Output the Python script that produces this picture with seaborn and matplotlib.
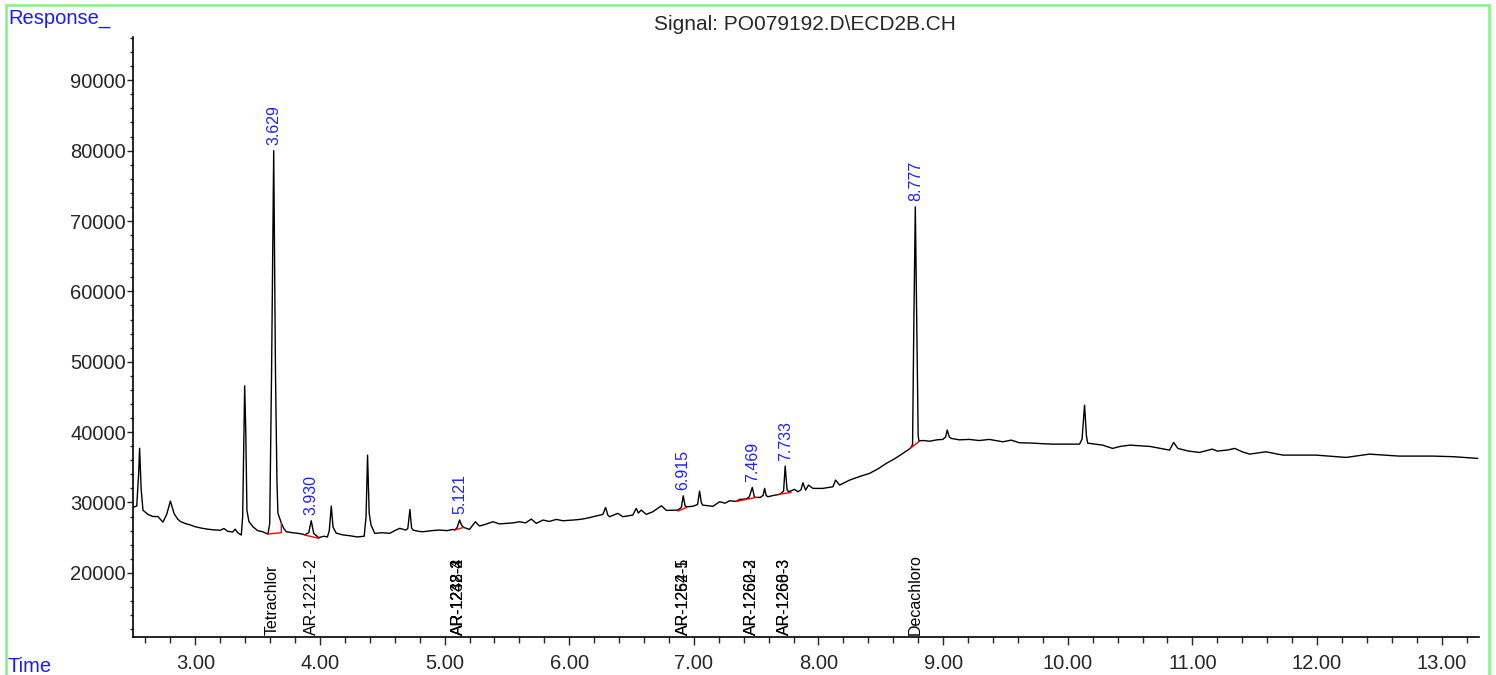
import pandas as pd
import numpy as np
import matplotlib
matplotlib.use("Agg")
import matplotlib.pyplot as plt
import seaborn as sns
from matplotlib.ticker import MultipleLocator, FormatStrFormatter
from matplotlib.patches import Rectangle

# chromatogram trace: (time min, response)
trace = [
    (2.50, 29300), (2.53, 29500), (2.545, 34000), (2.553, 37700), (2.565, 32000),
    (2.58, 28900), (2.62, 28300), (2.66, 28000), (2.70, 28000), (2.72, 27600),
    (2.74, 27200), (2.77, 28300), (2.80, 30200), (2.83, 28400), (2.86, 27600),
    (2.88, 27300), (2.92, 27000), (2.96, 26800), (3.00, 26550), (3.05, 26350),
    (3.10, 26200), (3.15, 26100), (3.20, 26050), (3.23, 26300), (3.26, 25900),
    (3.30, 25800), (3.32, 26200), (3.34, 25700), (3.369, 25370), (3.38, 28000),
    (3.396, 46580), (3.405, 40000), (3.414, 28900), (3.43, 27300), (3.462, 26550),
    (3.50, 26000), (3.54, 25840), (3.583, 25510), (3.597, 27000), (3.612, 48800),
    (3.629, 80000), (3.643, 48800), (3.655, 33000), (3.663, 28450), (3.69, 27100),
    (3.71, 26300), (3.73, 25840), (3.78, 25700), (3.83, 25600), (3.86, 25500),
    (3.877, 25400), (3.91, 25700), (3.93, 27400), (3.95, 25600), (3.99, 25000),
    (4.03, 25200), (4.06, 25100), (4.075, 26000), (4.091, 29500), (4.105, 26500),
    (4.13, 25650), (4.18, 25400), (4.24, 25270), (4.30, 25100), (4.355, 25200),
    (4.37, 28000), (4.382, 36730), (4.395, 28500), (4.41, 26790), (4.44, 25610),
    (4.50, 25700), (4.56, 25610), (4.60, 26000), (4.64, 26320), (4.69, 26080),
    (4.705, 26300), (4.722, 29000), (4.735, 26400), (4.746, 26080), (4.79, 25900),
    (4.826, 25840), (4.90, 26000), (4.96, 26080), (5.02, 26000), (5.067, 26170),
    (5.08, 26080), (5.10, 26400), (5.121, 27500), (5.135, 26800), (5.153, 26460),
    (5.20, 26170), (5.247, 27260), (5.28, 26650), (5.33, 26900), (5.388, 27260),
    (5.44, 26950), (5.495, 27030), (5.55, 27100), (5.60, 27260), (5.65, 27100),
    (5.696, 27640), (5.736, 27030), (5.79, 27500), (5.84, 27300), (5.896, 27590),
    (5.95, 27400), (6.03, 27500), (6.09, 27600), (6.137, 27740), (6.20, 28000),
    (6.27, 28300), (6.292, 29300), (6.31, 28200), (6.324, 27970), (6.39, 28450),
    (6.43, 27970), (6.51, 28210), (6.538, 29160), (6.555, 28500), (6.578, 28920),
    (6.618, 28310), (6.671, 28680), (6.74, 29530), (6.78, 28870), (6.83, 28900),
    (6.872, 28920), (6.90, 29300), (6.915, 30950), (6.93, 29500), (6.944, 29390),
    (6.99, 29450), (7.03, 29700), (7.046, 31620), (7.06, 30000), (7.07, 29630),
    (7.153, 29450), (7.207, 30100), (7.25, 29900), (7.287, 30240), (7.34, 30150),
    (7.367, 30430), (7.42, 30500), (7.445, 30800), (7.469, 32140), (7.487, 30720),
    (7.533, 30720), (7.556, 31000), (7.568, 32000), (7.58, 31000), (7.594, 30810),
    (7.64, 31000), (7.688, 31150), (7.72, 31600), (7.733, 35170), (7.748, 31800),
    (7.76, 31520), (7.808, 31860), (7.835, 31520), (7.86, 31800), (7.875, 32800),
    (7.897, 31760), (7.92, 32470), (7.955, 32000), (8.035, 32000), (8.116, 32230),
    (8.137, 33180), (8.17, 32470), (8.25, 33180), (8.30, 33500), (8.35, 33800),
    (8.41, 34130), (8.48, 34800), (8.544, 35550), (8.61, 36200), (8.677, 36970),
    (8.736, 37680), (8.755, 38200), (8.765, 55000), (8.777, 72000), (8.789, 55000),
    (8.80, 39500), (8.806, 38770), (8.85, 38800), (8.89, 38700), (8.95, 38900),
    (8.998, 38960), (9.02, 39300), (9.033, 40280), (9.05, 39300), (9.066, 39100),
    (9.13, 38900), (9.21, 38960), (9.29, 38800), (9.37, 38960), (9.48, 38620),
    (9.547, 38860), (9.613, 38480), (9.70, 38450), (9.80, 38350), (9.88, 38290),
    (10.095, 38290), (10.115, 39000), (10.135, 43830), (10.15, 39500), (10.16, 38430),
    (10.28, 38150), (10.36, 37680), (10.42, 37960), (10.50, 38150), (10.66, 37960),
    (10.817, 37440), (10.85, 38530), (10.884, 37680), (10.97, 37300), (11.057, 37110),
    (11.16, 37580), (11.20, 37300), (11.28, 37450), (11.34, 37680), (11.40, 37200),
    (11.46, 36870), (11.59, 37200), (11.726, 36730), (11.99, 36730), (12.235, 36400),
    (12.42, 36870), (12.66, 36590), (12.93, 36590), (13.10, 36500), (13.29, 36260),
]

# integration baselines (red)
baselines = [
    ("3.629", [(3.578, 25510), (3.69, 25700), (3.69, 27100)]),
    ("3.930", [(3.877, 25370), (3.992, 24900)]),
    ("5.121", [(5.08, 26080), (5.153, 26460)]),
    ("6.915", [(6.872, 28780), (6.944, 29300)]),
    ("7.469", [(7.34, 30150), (7.50, 30720)]),
    ("7.733", [(7.683, 31150), (7.782, 31430)]),
    ("8.777", [(8.736, 37680), (8.811, 38720)]),
]

peak_rt = [3.629, 3.930, 5.121, 6.915, 7.469, 7.733, 8.777]

compound_names = ["Tetrachlor", "AR-1221-2",
                  "AR-1242-3", "AR-1248-2", "AR-1232-4",
                  "AR-1254-5", "AR-1262-1",
                  "AR-1260-2", "AR-1262-3",
                  "AR-1268-3", "AR-1260-3",
                  "Decachloro"]
compound_rt = [3.615, 3.935,
               5.115, 5.115, 5.115,
               6.92, 6.92,
               7.465, 7.465,
               7.73, 7.73,
               8.774]

sns.set_style("ticks")
plt.rcParams["font.family"] = ["Liberation Sans", "DejaVu Sans"]

W, H = 1496, 675
fig = plt.figure(figsize=(W / 100, H / 100), dpi=100)
ax = fig.add_axes([133 / W, 1 - 637 / H, (1479 - 133) / W, (637 - 37) / H])

df = pd.DataFrame(trace, columns=["time", "response"])
sns.lineplot(data=df, x="time", y="response", sort=False, estimator=None,
             color="black", lw=1.0, ax=ax)

rows = []
for name, pts in baselines:
    for t, r in pts:
        rows.append({"peak": name, "time": t, "response": r})
bl = pd.DataFrame(rows)
sns.lineplot(data=bl, x="time", y="response", units="peak", estimator=None,
             sort=False, color="red", lw=1.0, ax=ax)

ax.set_xlim(2.5, 13.3)
ax.set_ylim(10880, 96150)
ax.xaxis.set_major_locator(MultipleLocator(1))
ax.xaxis.set_minor_locator(MultipleLocator(0.2))
ax.xaxis.set_major_formatter(FormatStrFormatter("%.2f"))
ax.yaxis.set_major_locator(MultipleLocator(10000))
ax.yaxis.set_minor_locator(MultipleLocator(2000))
ax.set_xlabel("")
ax.set_ylabel("")
sns.despine(ax=ax)
for s in ["left", "bottom"]:
    ax.spines[s].set_linewidth(1.2)
    ax.spines[s].set_color("black")
ax.tick_params(axis="x", which="major", length=6, width=1, labelsize=14.5, pad=6)
ax.tick_params(axis="x", which="minor", length=4, width=1)
ax.tick_params(axis="y", which="major", length=4, width=1, labelsize=14.5, pad=1)
ax.tick_params(axis="y", which="minor", length=2.5, width=1)

# retention time labels above the integrated peaks
for rt in peak_rt:
    top = np.interp(rt, df.time, df.response)
    ax.annotate(f"{rt:.3f}", (rt, top), xytext=(0, 4), textcoords="offset points",
                rotation=90, ha="center", va="bottom", color="#1f1fff", fontsize=11.5)

# compound names along the time axis
for name, rt in zip(compound_names, compound_rt):
    ax.text(rt, 0.003, name, transform=ax.get_xaxis_transform(), rotation=90,
            ha="center", va="bottom", color="black", fontsize=11.5)

fig.text(8 / W, 1 - 19 / H, "Response_", color="#1a1aff", fontsize=14.5, va="center")
fig.text(8 / W, 1 - 666 / H, "Time", color="#1a1aff", fontsize=14.5, va="center")
fig.text(805 / W, 1 - 25 / H, "Signal: PO079192.D\\ECD2B.CH", ha="center",
         va="center", fontsize=15)

fig.add_artist(Rectangle((6 / W, -0.05), (1489 - 6) / W, 1.05 - 5 / H,
                         transform=fig.transFigure, fill=False,
                         edgecolor="#8cf58c", lw=2))

fig.savefig("out.png", dpi=100)
